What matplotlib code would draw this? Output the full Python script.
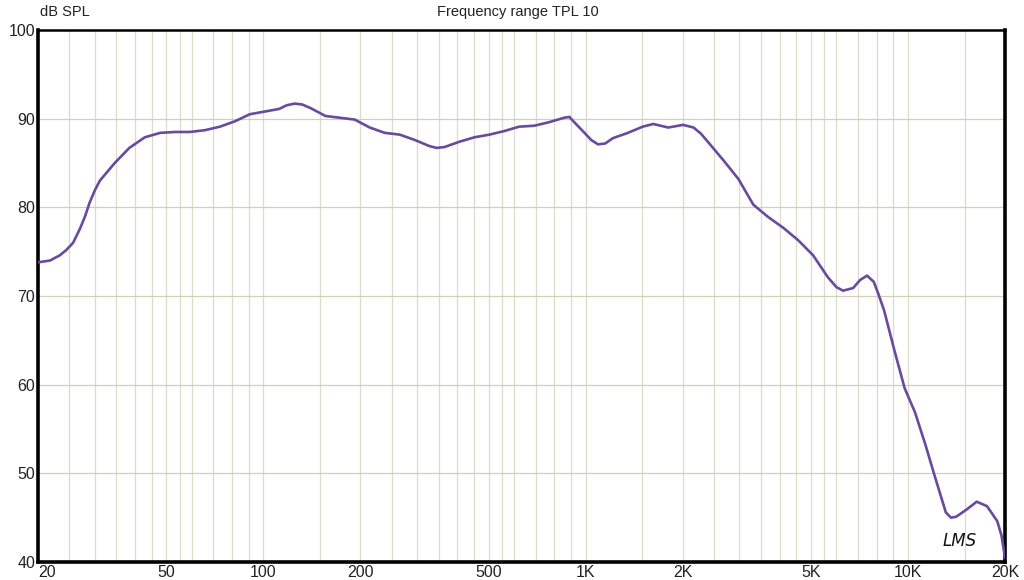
import numpy as np
import matplotlib.pyplot as plt

# frequency response (Hz, dB SPL)
freq = [20, 21.8, 23.4, 24.5, 25.7, 27.0, 28.0, 28.9, 30.0, 31.1, 32.8, 34.6, 38.4,
        42.9, 47.9, 53.3, 59.2, 65.9, 73.4, 81.6, 90.8, 101, 112, 118, 125, 132, 140,
        156, 173, 192, 214, 238, 265, 295, 328, 345, 365, 406, 452, 503, 559, 622,
        692, 770, 857, 890, 922, 992, 1040, 1093, 1150, 1215, 1352, 1504, 1621,
        1804, 2006, 2162, 2280, 2406, 2677, 2978, 3313, 3686, 4101, 4562, 5076,
        5647, 6000, 6290, 6761, 7100, 7465, 7832, 8100, 8429, 9072, 9765, 10510,
        11312, 12175, 13104, 13600, 14104, 15180, 16340, 17585, 18928, 19500, 20000]
spl = [73.8, 74.0, 74.6, 75.2, 76.0, 77.6, 79.0, 80.5, 81.9, 83.0, 84.0, 85.0, 86.7,
       87.9, 88.4, 88.5, 88.5, 88.7, 89.1, 89.7, 90.5, 90.8, 91.1, 91.5, 91.7, 91.6, 91.2,
       90.3, 90.1, 89.9, 89.0, 88.4, 88.2, 87.6, 86.9, 86.7, 86.8, 87.4, 87.9, 88.2, 88.6,
       89.1, 89.2, 89.6, 90.1, 90.2, 89.6, 88.4, 87.6, 87.1, 87.2, 87.8, 88.4, 89.1,
       89.4, 89.0, 89.3, 89.0, 88.3, 87.3, 85.3, 83.2, 80.3, 78.9, 77.7, 76.3, 74.6,
       72.1, 71.0, 70.6, 70.9, 71.8, 72.3, 71.6, 70.2, 68.4, 63.9, 59.6, 56.9,
       53.3, 49.4, 45.6, 45.0, 45.1, 45.9, 46.8, 46.3, 44.6, 43.0, 40.5]

xtick_vals = [20, 50, 100, 200, 500, 1000, 2000, 5000, 10000, 20000]
xtick_labels = ["20", "50", "100", "200", "500", "1K", "2K", "5K", "10K", "20K"]
ytick_vals = [40, 50, 60, 70, 80, 90, 100]

grid_steps = [1, 1.5, 2, 2.5, 3, 3.5, 4, 4.5, 5, 5.5, 6, 7, 8, 9]
fonts = ['Liberation Sans', 'DejaVu Sans']

fig = plt.figure(figsize=(10.24, 5.8), dpi=100)
ax = fig.add_axes([38 / 1024, 18 / 580, 967 / 1024, 532 / 580])

ax.set_xscale("log")
ax.set_xlim(20, 20000)
ax.set_ylim(40, 100)

for d in [10, 100, 1000, 10000]:
    for s in grid_steps:
        v = d * s
        if 20 < v < 20000:
            ax.axvline(v, color="#dcdccb", lw=0.9, zorder=1)
for v in ytick_vals[1:-1]:
    ax.axhline(v, color="#d0d0b8", lw=0.9, zorder=1)

ax.plot(freq, spl, color="#6a4a9c", lw=1.9, zorder=3, solid_joinstyle="round")

ax.set_xticks(xtick_vals)
ax.set_xticklabels(xtick_labels, family=fonts)
ax.xaxis.set_minor_locator(plt.NullLocator())
ax.set_yticks(ytick_vals)
ax.set_yticklabels([str(v) for v in ytick_vals], family=fonts)
ax.tick_params(length=0, labelsize=11.5, colors="#222222", pad=2)
ax.get_xticklabels()[0].set_horizontalalignment("left")

for side in ["left", "bottom", "right"]:
    ax.spines[side].set_linewidth(2.6)
ax.spines["top"].set_linewidth(1.8)

fig.text(40 / 1024, 1 - 12 / 580, "dB SPL", fontsize=10.5, va="center", ha="left",
         color="#222222", family=fonts)
fig.text(518 / 1024, 1 - 12 / 580, "Frequency range TPL 10", fontsize=10.5, va="center",
         ha="center", color="#222222", family=fonts)
ax.text(14500, 42.4, "LMS", fontsize=12, style="italic", color="#111111",
        ha="center", va="center", zorder=4)

fig.savefig("out.png", dpi=100)
